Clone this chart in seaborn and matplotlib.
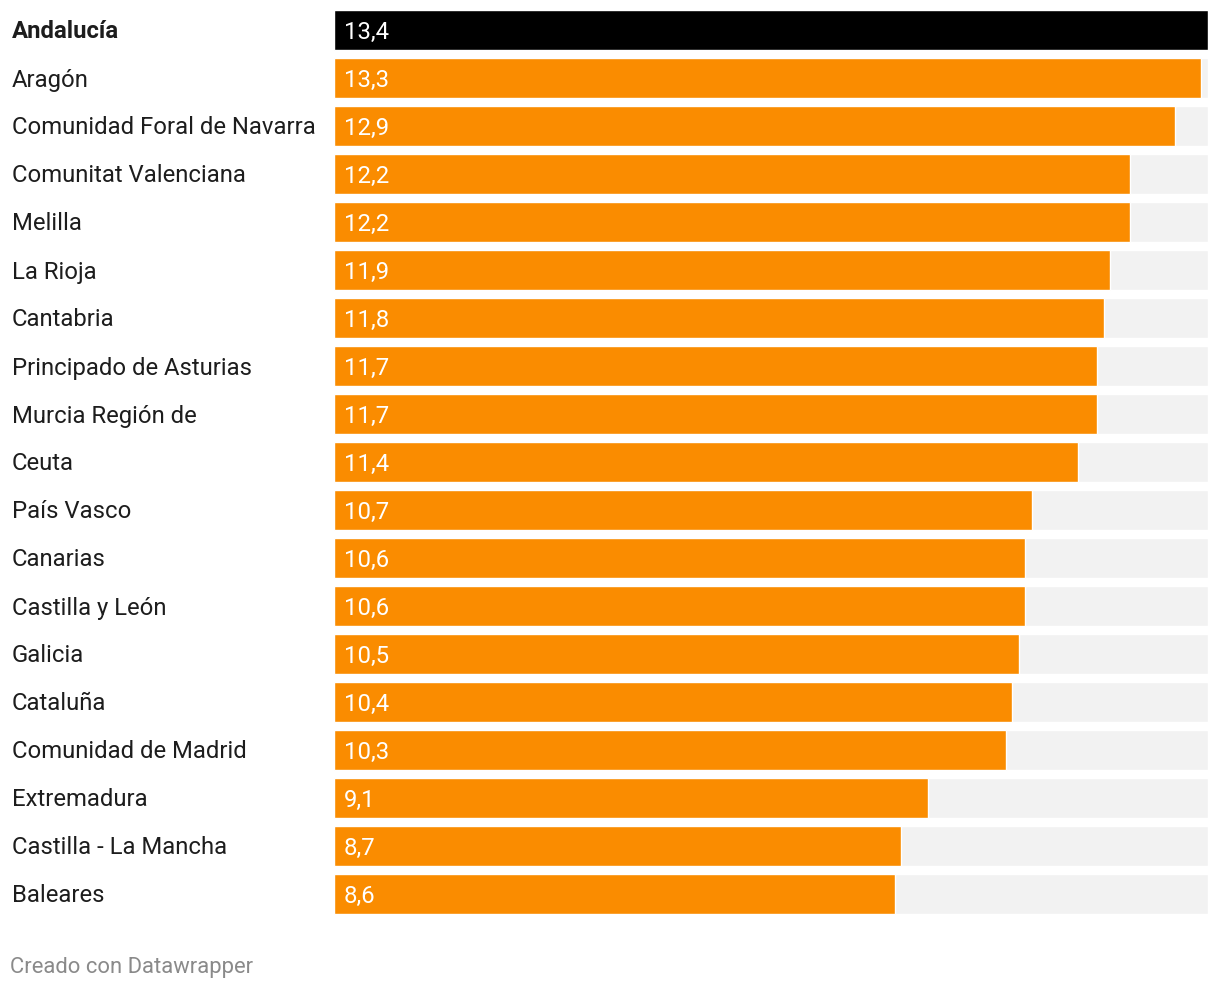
import matplotlib
matplotlib.use("Agg")
import matplotlib.pyplot as plt
import matplotlib.transforms as mtransforms
import seaborn as sns
import pandas as pd

regions = ["Andalucía", "Aragón", "Comunidad Foral de Navarra", "Comunitat Valenciana",
           "Melilla", "La Rioja", "Cantabria", "Principado de Asturias", "Murcia Región de",
           "Ceuta", "País Vasco", "Canarias", "Castilla y León", "Galicia", "Cataluña",
           "Comunidad de Madrid", "Extremadura", "Castilla - La Mancha", "Baleares"]
values = [13.4, 13.3, 12.9, 12.2, 12.2, 11.9, 11.8, 11.7, 11.7, 11.4,
          10.7, 10.6, 10.6, 10.5, 10.4, 10.3, 9.1, 8.7, 8.6]
highlight = "Andalucía"

ORANGE = "#fa8c00"
BG = "#f2f2f2"

df = pd.DataFrame({"region": regions, "value": values})
df["full"] = max(values)
palette = {r: ("#000000" if r == highlight else ORANGE) for r in regions}

sns.set_style("white")
plt.rcParams["font.family"] = ["Roboto", "DejaVu Sans"]

W, H = 1220, 990
fig = plt.figure(figsize=(W / 100, H / 100), dpi=100)
# axes in pixel terms: left 334, right 1208, top 6, bottom 918
ax = fig.add_axes([334 / W, 1 - 918 / H, (1208 - 334) / W, 912 / H])

bar_h = 40 / 48
sns.barplot(data=df, x="full", y="region", color=BG, width=bar_h, orient="h",
            saturation=1, ax=ax)
sns.barplot(data=df, x="value", y="region", hue="region", palette=palette, legend=False,
            width=bar_h, orient="h", saturation=1, ax=ax)

ax.set_xlim(0, max(values))
ax.set_ylim(len(regions) - 0.5, -0.5)
ax.set_xlabel("")
ax.set_ylabel("")
ax.set_xticks([])
ax.set_yticks([])
sns.despine(ax=ax, left=True, bottom=True)

lab_tr = mtransforms.offset_copy(
    mtransforms.blended_transform_factory(fig.transFigure, ax.transData),
    fig=fig, x=0, y=-2, units="dots")
val_tr = mtransforms.offset_copy(ax.transData, fig=fig, x=10, y=-2, units="dots")
for i, (r, v) in enumerate(zip(regions, values)):
    ax.text(12 / W, i, r, transform=lab_tr, ha="left", va="center", fontsize=17.2,
            color="#1d1d1d", fontweight="bold" if r == highlight else "normal")
    ax.text(0, i, f"{v:.1f}".replace(".", ","), transform=val_tr, ha="left",
            va="center", fontsize=17.2, color="white")

fig.text(10 / W, 1 - 968 / H, "Creado con Datawrapper", ha="left", va="center",
         fontsize=15.8, color="#8a8a8a")

fig.savefig("out.png", dpi=100)
